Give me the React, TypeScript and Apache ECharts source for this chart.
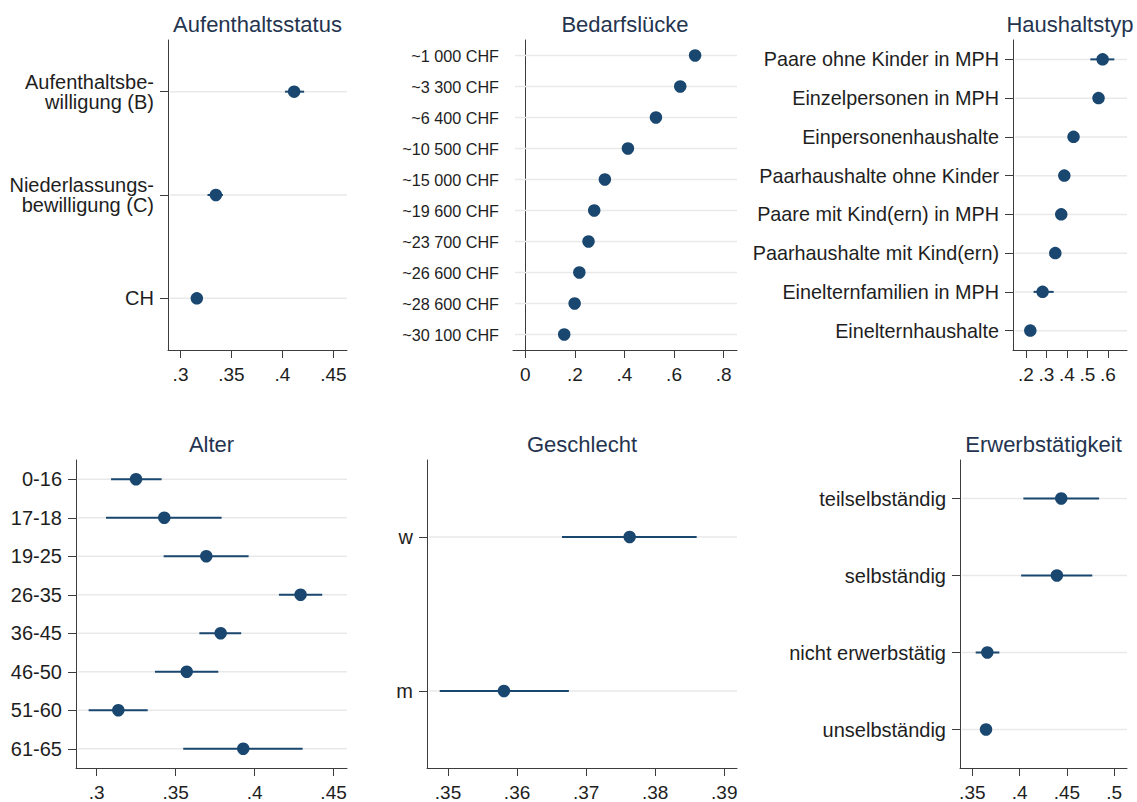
import React, { useEffect, useRef } from "react";
import * as echarts from "echarts";

const FONT = '"Liberation Sans", Arial, Helvetica, sans-serif';
const NAVY = "#1a476f";
const AXIS = "#3c3c3c";
const GRIDLINE = "#e9e9e9";
const LABEL = "#1e1e1e";
const TITLE = "#24344f";

// Aufenthaltsstatus
const statusCats = ["Aufenthaltsbe-\nwilligung (B)", "Niederlassungs-\nbewilligung (C)", "CH"];
const statusEst = [0.4115, 0.3347, 0.316];
const statusLo = [0.4026, 0.3265, 0.311];
const statusHi = [0.4213, 0.3416, 0.321];
const statusTicks = [0.3, 0.35, 0.4, 0.45];

// Bedarfslücke
const bedarfCats = [
  "~1 000 CHF", "~3 300 CHF", "~6 400 CHF", "~10 500 CHF", "~15 000 CHF",
  "~19 600 CHF", "~23 700 CHF", "~26 600 CHF", "~28 600 CHF", "~30 100 CHF",
];
const bedarfEst = [0.685, 0.625, 0.527, 0.414, 0.321, 0.278, 0.255, 0.218, 0.199, 0.157];
const bedarfLo = [0.677, 0.617, 0.519, 0.406, 0.314, 0.271, 0.248, 0.211, 0.192, 0.15];
const bedarfHi = [0.693, 0.633, 0.535, 0.422, 0.328, 0.285, 0.262, 0.225, 0.206, 0.164];
const bedarfTicks = [0, 0.2, 0.4, 0.6, 0.8];

// Haushaltstyp
const haushaltCats = [
  "Paare ohne Kinder in MPH", "Einzelpersonen in MPH", "Einpersonenhaushalte",
  "Paarhaushalte ohne Kinder", "Paare mit Kind(ern) in MPH", "Paarhaushalte mit Kind(ern)",
  "Einelternfamilien in MPH", "Einelternhaushalte",
];
const haushaltEst = [0.574, 0.554, 0.432, 0.387, 0.372, 0.343, 0.281, 0.221];
const haushaltLo = [0.514, 0.538, 0.418, 0.373, 0.35, 0.33, 0.237, 0.208];
const haushaltHi = [0.631, 0.57, 0.446, 0.401, 0.395, 0.356, 0.335, 0.234];
const haushaltTicks = [0.2, 0.3, 0.4, 0.5, 0.6];

// Alter
const alterCats = ["0-16", "17-18", "19-25", "26-35", "36-45", "46-50", "51-60", "61-65"];
const alterEst = [0.3249, 0.3428, 0.3694, 0.4291, 0.3785, 0.357, 0.3137, 0.3928];
const alterLo = [0.3091, 0.3059, 0.3424, 0.4154, 0.365, 0.3369, 0.2949, 0.3548];
const alterHi = [0.3411, 0.3791, 0.3962, 0.4428, 0.3915, 0.377, 0.3323, 0.4304];
const alterTicks = [0.3, 0.35, 0.4, 0.45];

// Geschlecht
const geschlechtCats = ["w", "m"];
const geschlechtEst = [0.3763, 0.3581];
const geschlechtLo = [0.3665, 0.3488];
const geschlechtHi = [0.386, 0.3675];
const geschlechtTicks = [0.35, 0.36, 0.37, 0.38, 0.39];

// Erwerbstätigkeit
const erwerbCats = ["teilselbständig", "selbständig", "nicht erwerbstätig", "unselbständig"];
const erwerbEst = [0.444, 0.4394, 0.3659, 0.3645];
const erwerbLo = [0.404, 0.4016, 0.3536, 0.3612];
const erwerbHi = [0.484, 0.4768, 0.3786, 0.3678];
const erwerbTicks = [0.35, 0.4, 0.45, 0.5];

type Panel = {
  title: string;
  cats: string[];
  est: number[];
  lo: number[];
  hi: number[];
  ticks: number[];
  min: number;
  max: number;
  box: { left: number; top: number; width: number; height: number };
  labelSize: number;
};

const panels: Panel[] = [
  { title: "Aufenthaltsstatus", cats: statusCats, est: statusEst, lo: statusLo, hi: statusHi, ticks: statusTicks,
    min: 0.2877, max: 0.4634, box: { left: 168, top: 40, width: 179, height: 310 }, labelSize: 20 },
  { title: "Bedarfslücke", cats: bedarfCats, est: bedarfEst, lo: bedarfLo, hi: bedarfHi, ticks: bedarfTicks,
    min: -0.0496, max: 0.854, box: { left: 513, top: 40, width: 224, height: 310 }, labelSize: 16.2 },
  { title: "Haushaltstyp", cats: haushaltCats, est: haushaltEst, lo: haushaltLo, hi: haushaltHi, ticks: haushaltTicks,
    min: 0.1366, max: 0.693, box: { left: 1013, top: 40, width: 114, height: 310 }, labelSize: 19.8 },
  { title: "Alter", cats: alterCats, est: alterEst, lo: alterLo, hi: alterHi, ticks: alterTicks,
    min: 0.2869, max: 0.4585, box: { left: 76, top: 460, width: 271, height: 310 }, labelSize: 20 },
  { title: "Geschlecht", cats: geschlechtCats, est: geschlechtEst, lo: geschlechtLo, hi: geschlechtHi, ticks: geschlechtTicks,
    min: 0.34696, max: 0.39184, box: { left: 427, top: 460, width: 310, height: 310 }, labelSize: 20 },
  { title: "Erwerbstätigkeit", cats: erwerbCats, est: erwerbEst, lo: erwerbLo, hi: erwerbHi, ticks: erwerbTicks,
    min: 0.337, max: 0.5135, box: { left: 960, top: 460, width: 167, height: 310 }, labelSize: 20 },
];

const fmtTick = (v: number) => {
  const s = parseFloat(v.toFixed(4)).toString();
  if (s.startsWith("0.")) return s.slice(1);
  if (s.startsWith("-0.")) return "-" + s.slice(2);
  return s;
};

function buildOption() {
  const grid = panels.map((p) => ({ ...p.box, containLabel: false }));

  const xAxis = panels.map((p, i) => ({
    type: "value",
    gridIndex: i,
    min: p.min,
    max: p.max,
    axisLine: { show: true, lineStyle: { color: AXIS, width: 1 } },
    axisTick: { show: true, length: 8, customValues: p.ticks, lineStyle: { color: AXIS, width: 1 } },
    axisLabel: {
      customValues: p.ticks,
      formatter: fmtTick,
      fontSize: 19,
      color: LABEL,
      fontFamily: FONT,
      margin: 15,
    },
    splitLine: { show: false },
  }));

  const yAxis = panels.map((p, i) => ({
    type: "category",
    gridIndex: i,
    data: p.cats,
    inverse: true,
    axisLine: { show: true, lineStyle: { color: AXIS, width: 1 } },
    axisTick: { show: true, alignWithLabel: true, length: 8, lineStyle: { color: AXIS, width: 1 } },
    axisLabel: {
      interval: 0,
      fontSize: p.labelSize,
      lineHeight: 20,
      color: LABEL,
      fontFamily: FONT,
      margin: 14,
    },
    splitLine: { show: false },
  }));

  const series: any[] = [];
  panels.forEach((p, i) => {
    // row gridline plus confidence interval for each category
    series.push({
      type: "custom",
      xAxisIndex: i,
      yAxisIndex: i,
      silent: true,
      z: 1,
      encode: { x: [0, 1], y: 2 },
      data: p.cats.map((_, k) => [p.lo[k], p.hi[k], k]),
      renderItem: (params: any, api: any) => {
        const cs = params.coordSys;
        const a = api.coord([api.value(0), api.value(2)]);
        const b = api.coord([api.value(1), api.value(2)]);
        return {
          type: "group",
          children: [
            {
              type: "line",
              shape: { x1: cs.x + 2, y1: a[1], x2: cs.x + cs.width, y2: a[1] },
              style: { stroke: GRIDLINE, lineWidth: 1.5 },
            },
            {
              type: "line",
              shape: { x1: a[0], y1: a[1], x2: b[0], y2: b[1] },
              style: { stroke: NAVY, lineWidth: 2 },
            },
          ],
        };
      },
    });
    // point estimates
    series.push({
      type: "scatter",
      xAxisIndex: i,
      yAxisIndex: i,
      silent: true,
      z: 3,
      symbol: "circle",
      symbolSize: 12.5,
      itemStyle: { color: NAVY, opacity: 1 },
      data: p.est.map((v, k) => [v, k]),
    });
  });

  const graphic = panels.map((p) => ({
    type: "text",
    x: p.box.left + p.box.width / 2,
    y: p.box.top - 16,
    style: {
      text: p.title,
      fontSize: 22,
      fontFamily: FONT,
      fill: TITLE,
      align: "center",
      verticalAlign: "middle",
    },
  }));

  return {
    animation: false,
    backgroundColor: "#ffffff",
    grid,
    xAxis,
    yAxis,
    series,
    graphic,
  };
}

export default function App() {
  const ref = useRef<HTMLDivElement>(null);

  useEffect(() => {
    document.body.style.margin = "0";
    if (!ref.current) return;
    const chart = echarts.init(ref.current, undefined, { renderer: "svg" });
    chart.setOption(buildOption() as any);
    return () => {
      chart.dispose();
    };
  }, []);

  return <div ref={ref} style={{ width: 1137, height: 802, background: "#fff" }} />;
}
